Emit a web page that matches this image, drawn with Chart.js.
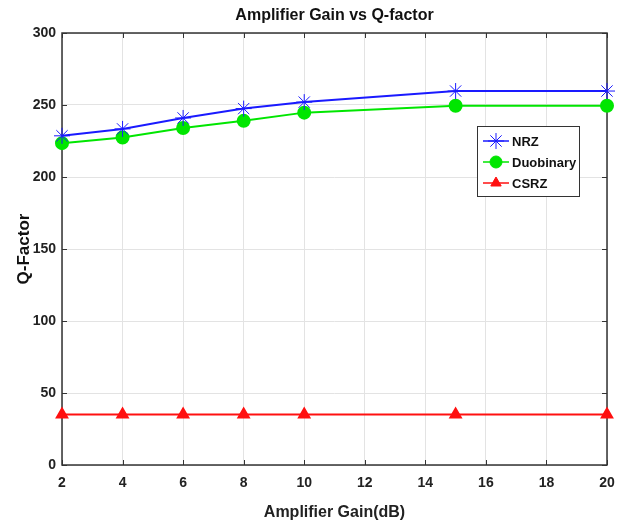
<!DOCTYPE html>
<html>
<head>
<meta charset="utf-8">
<script src="https://cdn.jsdelivr.net/npm/chart.js@4/dist/chart.umd.min.js"></script>
<style>
  html, body { margin: 0; padding: 0; background: #fff; }
  #wrap { width: 621px; height: 528px; }
</style>
</head>
<body>
<div id="wrap"><canvas id="chart"></canvas></div>
<script>
const gains = [2, 4, 6, 8, 10, 15, 20];
const nrz = [228.6, 233.4, 241, 247.5, 252, 259.7, 259.7];
const duobinary = [223.5, 227.4, 234, 239, 244.7, 249.5, 249.5];
const csrz = [35, 35, 35, 35, 35, 35, 35];
const chartTitle = 'Amplifier Gain vs Q-factor';

const FONT = "'Liberation Sans', Arial, sans-serif";

function toPoints(values) {
  return gains.map((g, i) => ({ x: g, y: values[i] }));
}

// title centred over the axes like matlab does
const axesTitle = {
  id: 'axesTitle',
  afterDraw(chart) {
    const { ctx, chartArea: a } = chart;
    ctx.save();
    ctx.fillStyle = '#111';
    ctx.font = 'bold 16px ' + FONT;
    ctx.textAlign = 'center';
    ctx.textBaseline = 'middle';
    ctx.fillText(chartTitle, (a.left + a.right) / 2, 16);
    ctx.restore();
  }
};

// legend drawn inside the plot, matlab style
const boxLegend = {
  id: 'boxLegend',
  afterDatasetsDraw(chart) {
    const ctx = chart.ctx;
    const x0 = 477, y0 = 126, w = 102, h = 70;
    ctx.save();
    ctx.fillStyle = '#fff';
    ctx.fillRect(x0, y0, w, h);
    ctx.strokeStyle = '#333';
    ctx.lineWidth = 1;
    ctx.strokeRect(x0 + 0.5, y0 + 0.5, w, h);
    chart.data.datasets.forEach((ds, i) => {
      const cy = y0 + 15 + i * 21;
      ctx.strokeStyle = ds.borderColor;
      ctx.lineWidth = 1.5;
      ctx.beginPath();
      ctx.moveTo(x0 + 6, cy);
      ctx.lineTo(x0 + 32, cy);
      ctx.stroke();
      ctx.fillStyle = ds.pointBackgroundColor;
      ctx.strokeStyle = ds.pointBorderColor;
      ctx.lineWidth = ds.pointBorderWidth || 1;
      Chart.helpers.drawPoint(ctx, {
        pointStyle: ds.pointStyle,
        radius: ds.pointRadius,
        borderWidth: ds.pointBorderWidth || 1
      }, x0 + 19, cy);
      ctx.fillStyle = '#111';
      ctx.font = 'bold 13px ' + FONT;
      ctx.textAlign = 'left';
      ctx.textBaseline = 'middle';
      ctx.fillText(ds.label, x0 + 35, cy + 1);
    });
    ctx.restore();
  }
};

// inward ticks on all four sides + box
const innerTicks = {
  id: 'innerTicks',
  beforeDatasetsDraw(chart) {
    const { ctx, chartArea: a, scales } = chart;
    ctx.save();
    ctx.strokeStyle = '#333';
    ctx.lineWidth = 1;
    ctx.beginPath();
    scales.x.ticks.forEach(t => {
      const px = Math.round(scales.x.getPixelForValue(t.value)) + 0.5;
      ctx.moveTo(px, a.bottom); ctx.lineTo(px, a.bottom - 5);
      ctx.moveTo(px, a.top); ctx.lineTo(px, a.top + 5);
    });
    scales.y.ticks.forEach(t => {
      const py = Math.round(scales.y.getPixelForValue(t.value)) + 0.5;
      ctx.moveTo(a.left, py); ctx.lineTo(a.left + 5, py);
      ctx.moveTo(a.right, py); ctx.lineTo(a.right - 5, py);
    });
    ctx.stroke();
    ctx.lineWidth = 1.5;
    ctx.strokeRect(a.left, a.top, a.right - a.left, a.bottom - a.top);
    ctx.restore();
  }
};

const ctx = document.getElementById('chart').getContext('2d');
new Chart(ctx, {
  type: 'line',
  data: {
    datasets: [
      {
        label: 'NRZ',
        data: toPoints(nrz),
        borderColor: '#1a1aff',
        backgroundColor: '#1a1aff',
        pointBorderColor: '#1a1aff',
        pointBackgroundColor: '#1a1aff',
        pointStyle: 'star',
        pointRadius: 8,
        pointBorderWidth: 1,
        borderWidth: 2,
        clip: false
      },
      {
        label: 'Duobinary',
        data: toPoints(duobinary),
        borderColor: '#00e600',
        backgroundColor: '#00e600',
        pointBorderColor: '#00e600',
        pointBackgroundColor: '#00e600',
        pointStyle: 'circle',
        pointRadius: 6,
        borderWidth: 2,
        clip: false
      },
      {
        label: 'CSRZ',
        data: toPoints(csrz),
        borderColor: '#ff1010',
        backgroundColor: '#ff1010',
        pointBorderColor: '#ff1010',
        pointBackgroundColor: '#ff1010',
        pointStyle: 'triangle',
        pointRadius: 6,
        borderWidth: 2,
        clip: false
      }
    ]
  },
  options: {
    responsive: true,
    maintainAspectRatio: false,
    animation: false,
    layout: { autoPadding: false, padding: { top: 33, right: 14, left: 0, bottom: 2 } },
    plugins: {
      legend: { display: false },
      tooltip: { enabled: false },
      title: { display: false }
    },
    scales: {
      x: {
        type: 'linear',
        min: 2,
        max: 20,
        ticks: { stepSize: 2, color: '#222', font: { family: FONT, size: 14, weight: 'bold' }, padding: 4 },
        grid: { color: '#e3e3e3', drawTicks: true, tickLength: 6, tickColor: 'rgba(0,0,0,0)' },
        border: { display: false },
        title: {
          display: true,
          text: 'Amplifier Gain(dB)',
          color: '#222',
          font: { family: FONT, size: 16, weight: 'bold' },
          padding: { top: 7, bottom: 4 }
        }
      },
      y: {
        min: 0,
        max: 300,
        afterFit(scale) { scale.width = 62; },
        ticks: { stepSize: 50, color: '#222', font: { family: FONT, size: 14, weight: 'bold' }, padding: 6 },
        grid: { color: '#e3e3e3', tickLength: 0 },
        border: { display: false },
        title: {
          display: true,
          text: 'Q-Factor',
          color: '#111',
          font: { family: FONT, size: 17, weight: 'bold' },
          padding: { top: 14, bottom: 0 }
        }
      }
    }
  },
  plugins: [axesTitle, boxLegend, innerTicks]
});
</script>
</body>
</html>
